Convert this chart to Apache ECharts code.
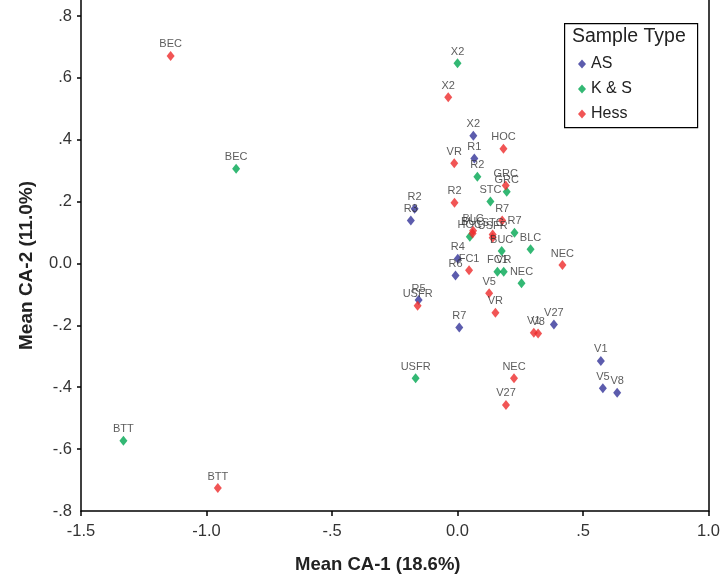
<!DOCTYPE html>
<html>
<head>
<meta charset="utf-8">
<script src="https://cdn.jsdelivr.net/npm/echarts@6/dist/echarts.min.js"></script>
<style>
  html, body { margin: 0; padding: 0; background: #fff; }
  #chart { width: 723px; height: 579px; }
</style>
</head>
<body>
<div id="chart"></div>
<script>
// mean CA scores per sample
const asNames = ['X2', 'R1', 'R2', 'R3', 'R4', 'R6', 'R5', 'R7', 'V27', 'V1', 'V5', 'V8'];
const asX = [0.063, 0.067, -0.171, -0.186, 0.001, -0.008, -0.155, 0.007, 0.384, 0.571, 0.579, 0.636];
const asY = [0.413, 0.339, 0.177, 0.139, 0.015, -0.039, -0.118, -0.207, -0.197, -0.315, -0.403, -0.418];

const ksNames = ['X2', 'BEC', 'R2', 'GRC', 'STC', 'R7', 'BLC', 'HOC', 'BUC', 'FC1', 'VR', 'NEC', 'USFR', 'BTT'];
const ksX = [0.000, -0.882, 0.079, 0.196, 0.131, 0.227, 0.291, 0.049, 0.176, 0.159, 0.184, 0.255, -0.167, -1.331];
const ksY = [0.647, 0.306, 0.280, 0.232, 0.200, 0.099, 0.046, 0.086, 0.040, -0.027, -0.027, -0.064, -0.371, -0.573];

const hessNames = ['BEC', 'X2', 'HOC', 'VR', 'GRC', 'R2', 'R7', 'BLC', 'BUC', 'STC', 'USFR', 'NEC', 'FC1', 'V5', 'VR', 'USFR', 'V1', 'V8', 'NEC', 'V27', 'BTT'];
const hessX = [-1.143, -0.037, 0.183, -0.013, 0.192, -0.012, 0.178, 0.062, 0.060, 0.140, 0.140, 0.418, 0.046, 0.126, 0.151, -0.159, 0.304, 0.321, 0.225, 0.193, -0.955];
const hessY = [0.671, 0.537, 0.371, 0.324, 0.252, 0.196, 0.139, 0.106, 0.097, 0.094, 0.083, -0.005, -0.022, -0.096, -0.159, -0.137, -0.224, -0.226, -0.371, -0.457, -0.726];

const xTicks = [-1.5, -1.0, -0.5, 0, 0.5, 1.0];
const yTicks = [-0.8, -0.6, -0.4, -0.2, 0, 0.2, 0.4, 0.6, 0.8];

const font = '"Liberation Sans", Arial, sans-serif';

function fmt(v) {
  if (Math.abs(v) < 1e-9) return '0.0';
  let s = v.toFixed(1);
  return s.replace(/^(-?)0\./, '$1.');
}

function pts(xs, ys, names) {
  return xs.map((x, i) => ({ name: names[i], value: [x, ys[i]] }));
}

function series(name, color, data) {
  return {
    name: name,
    type: 'scatter',
    symbol: 'diamond',
    symbolSize: [8, 10],
    itemStyle: { color: color },
    label: {
      show: true,
      position: 'top',
      distance: 1,
      formatter: p => p.name,
      fontFamily: font,
      fontSize: 11,
      color: '#333'
    },
    data: data
  };
}

const chart = echarts.init(document.getElementById('chart'));

chart.setOption({
  animation: false,
  grid: { left: 81, right: 12, top: 0, bottom: 67 },
  xAxis: {
    type: 'value',
    min: -1.5,
    max: 1.0,
    interval: 0.5,
    name: 'Mean CA-1 (18.6%)',
    nameLocation: 'middle',
    nameGap: 44,
    nameTextStyle: { fontFamily: font, fontSize: 18.5, fontWeight: 'bold', color: '#222', padding: [0, 34, 0, 0] },
    splitLine: { show: false },
    axisLine: { onZero: false, lineStyle: { color: '#000', width: 1.5 } },
    axisTick: { inside: false, length: 5, lineStyle: { color: '#000', width: 1.5 }, customValues: xTicks },
    axisLabel: { customValues: xTicks, formatter: fmt, fontFamily: font, fontSize: 16.5, color: '#333', margin: 12 }
  },
  yAxis: [
    {
      type: 'value',
      min: -0.8,
      max: 0.8516,
      name: 'Mean CA-2 (11.0%)',
      nameLocation: 'middle',
      nameGap: 45,
      nameTextStyle: { fontFamily: font, fontSize: 19, fontWeight: 'bold', color: '#222', padding: [0, 20, 0, 0] },
      splitLine: { show: false },
      axisLine: { show: true, onZero: false, lineStyle: { color: '#000', width: 1.5 } },
      axisTick: { length: 4, lineStyle: { color: '#000', width: 1.5 }, customValues: yTicks.slice(1) },
      axisLabel: { customValues: yTicks, formatter: fmt, fontFamily: font, fontSize: 16.5, color: '#333', margin: 9 }
    },
    {
      type: 'value',
      position: 'right',
      min: -0.8,
      max: 0.8516,
      splitLine: { show: false },
      axisLine: { show: true, onZero: false, lineStyle: { color: '#000', width: 1.5 } },
      axisTick: { show: false },
      axisLabel: { show: false }
    }
  ],
  legend: {
    orient: 'vertical',
    left: 573,
    top: 51,
    itemWidth: 8,
    itemHeight: 9,
    itemGap: 9,
    icon: 'diamond',
    textStyle: { fontFamily: font, fontSize: 16, color: '#222' },
    data: ['AS', 'K & S', 'Hess']
  },
  graphic: [
    {
      type: 'rect',
      left: 564,
      top: 23,
      shape: { width: 133, height: 104 },
      style: { fill: '#fff', stroke: '#000', lineWidth: 1.2 },
      z: -1
    },
    {
      type: 'text',
      left: 572,
      top: 27,
      style: { text: 'Sample Type', font: '19.5px "Liberation Sans", Arial, sans-serif', fill: '#222' }
    }
  ],
  series: [
    series('AS', '#333399', pts(asX, asY, asNames)),
    series('K & S', '#00a651', pts(ksX, ksY, ksNames)),
    series('Hess', '#ee2b2b', pts(hessX, hessY, hessNames))
  ]
});
</script>
</body>
</html>
